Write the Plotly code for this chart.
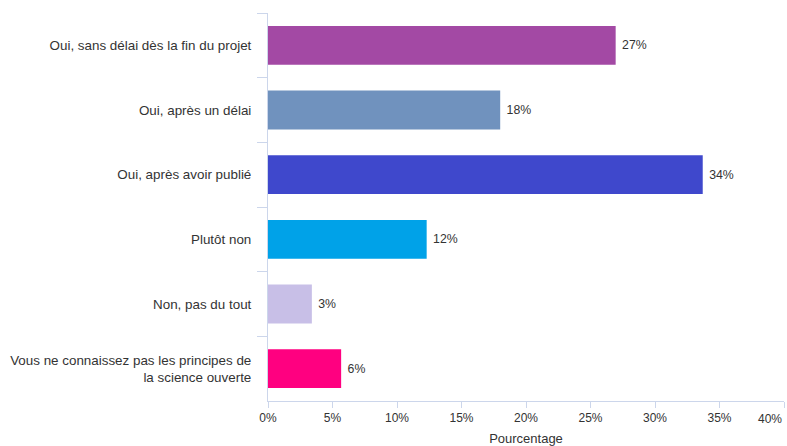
import plotly.graph_objects as go

categories = [
    "Oui, sans délai dès la fin du projet",
    "Oui, après un délai",
    "Oui, après avoir publié",
    "Plutôt non",
    "Non, pas du tout",
    "Vous ne connaissez pas les principes de<br>la science ouverte",
]
values = [26.95, 18.0, 33.7, 12.3, 3.4, 5.67]
labels = ["27%", "18%", "34%", "12%", "3%", "6%"]
colors = ["#A349A4", "#7092BE", "#3F48CC", "#00A2E8", "#C8BFE7", "#FF0080"]
x_ticks = [0, 5, 10, 15, 20, 25, 30, 35, 40]
x_ticktext = ["0%", "5%", "10%", "15%", "20%", "25%", "30%", "35%", ""]

FONT = "Liberation Sans, Arial, sans-serif"
AXIS = "#ccd6eb"
TXT = "#333333"

fig = go.Figure(go.Bar(
    y=categories,
    x=values,
    orientation="h",
    marker=dict(color=colors, line=dict(width=0)),
    width=0.6,
    text=[" " + t for t in labels],
    textposition="outside",
    textfont=dict(family=FONT, size=12.3, color=TXT),
    cliponaxis=False,
))

fig.add_annotation(
    x=40, y=0, xref="x", yref="paper", text="40%", showarrow=False,
    xanchor="right", yanchor="top", yshift=-9,
    font=dict(family=FONT, size=12, color=TXT),
)

fig.update_layout(
    width=787, height=446,
    margin=dict(l=268, r=3, t=13, b=45),
    plot_bgcolor="white", paper_bgcolor="white",
    showlegend=False,
    font=dict(family=FONT, size=12, color=TXT),
    xaxis=dict(
        range=[0, 40], tickvals=x_ticks, ticktext=x_ticktext,
        showgrid=False, zeroline=False,
        showline=True, linecolor=AXIS, linewidth=1,
        ticks="outside", ticklen=6, tickcolor=AXIS,
        tickfont=dict(family=FONT, size=12, color=TXT),
        title=dict(text="Pourcentage", standoff=10,
                   font=dict(family=FONT, size=13, color=TXT)),
        automargin=False,
    ),
    yaxis=dict(
        autorange="reversed",
        showgrid=False, zeroline=False,
        showline=True, linecolor=AXIS, linewidth=1,
        ticks="outside", ticklen=10, tickcolor=AXIS, tickson="boundaries",
        ticklabelstandoff=13,
        tickfont=dict(family=FONT, size=13.4, color=TXT),
        automargin=False,
    ),
)

fig.write_html("out.html", config={"displayModeBar": False},
               post_script="document.body.style.margin='0';")
